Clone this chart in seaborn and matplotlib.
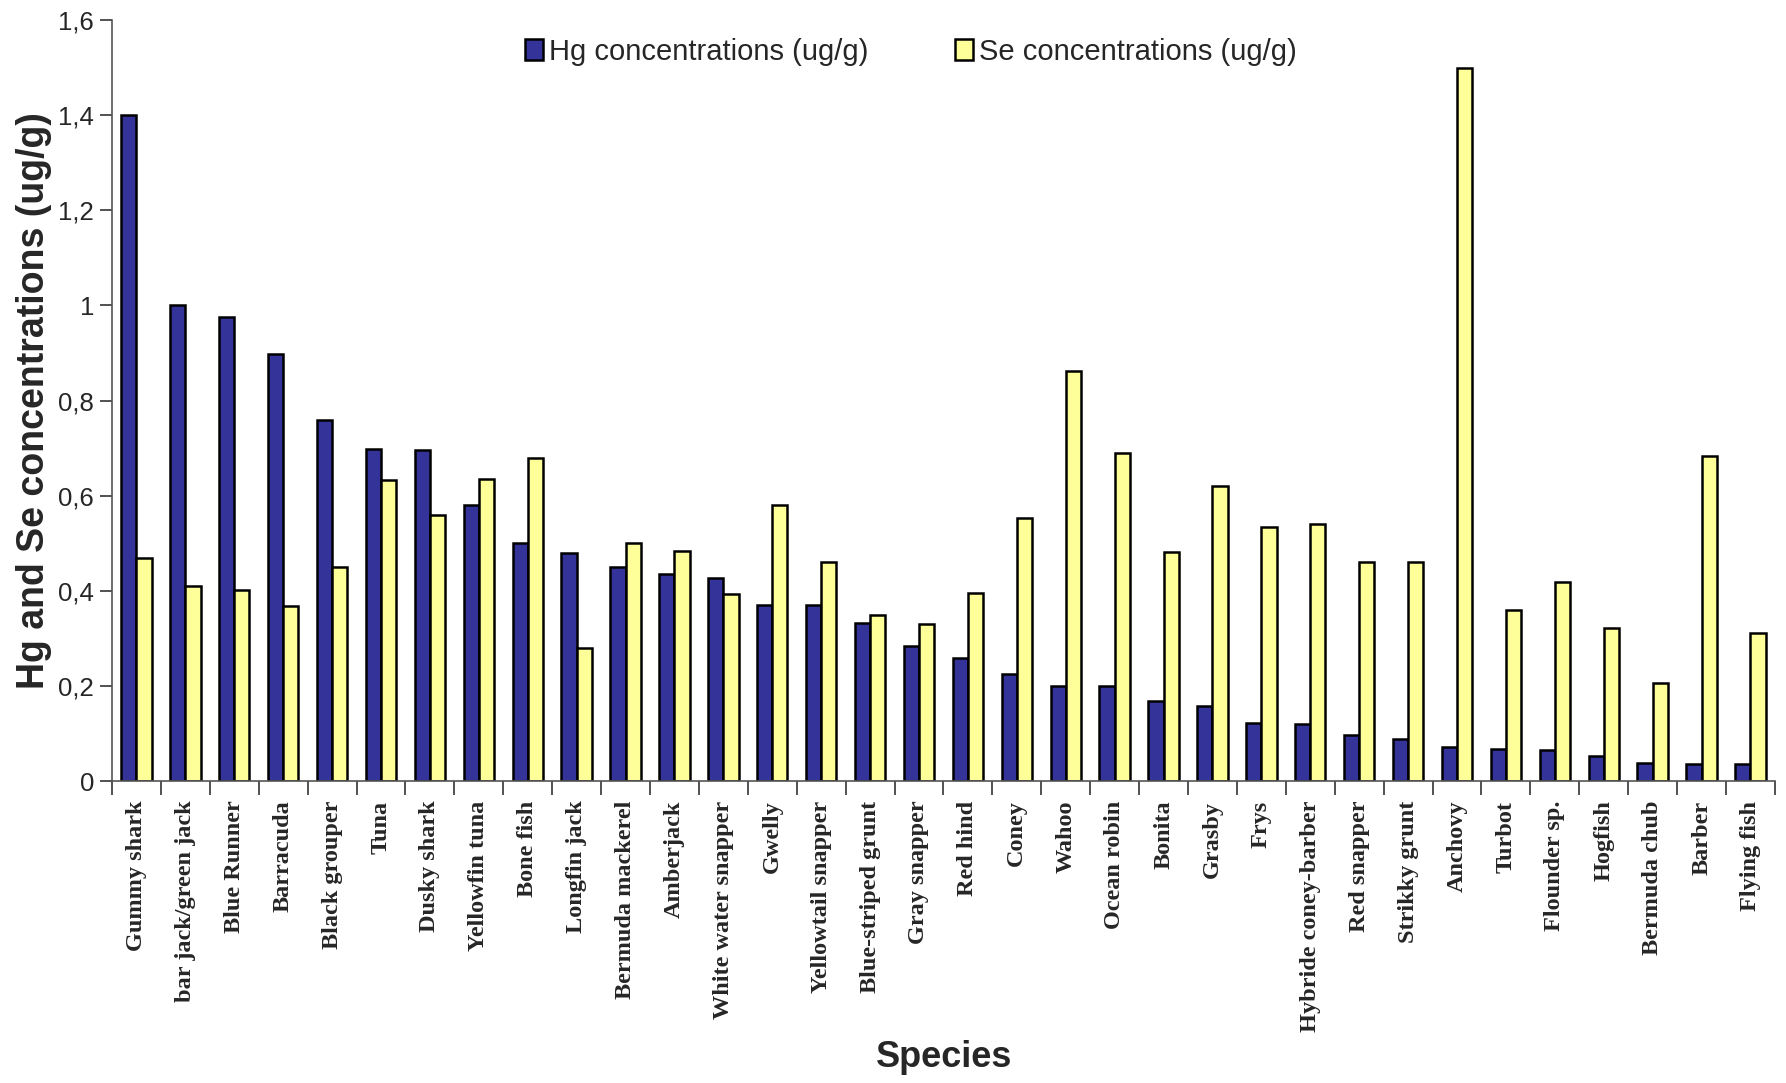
import matplotlib
matplotlib.use("Agg")
import matplotlib.pyplot as plt
from matplotlib.patches import Patch
from matplotlib.ticker import FixedLocator, FuncFormatter
import seaborn as sns
import pandas as pd
import numpy as np

species = [
    "Gummy shark", "bar jack/green jack", "Blue Runner", "Barracuda", "Black grouper",
    "Tuna", "Dusky shark", "Yellowfin tuna", "Bone fish", "Longfin jack",
    "Bermuda mackerel", "Amberjack", "White water snapper", "Gwelly", "Yellowtail snapper",
    "Blue-striped grunt", "Gray snapper", "Red hind", "Coney", "Wahoo",
    "Ocean robin", "Bonita", "Grasby", "Frys", "Hybride coney-barber",
    "Red snapper", "Strikky grunt", "Anchovy", "Turbot", "Flounder sp.",
    "Hogfish", "Bermuda chub", "Barber", "Flying fish",
]
hg = [1.40, 1.00, 0.975, 0.898, 0.759, 0.699, 0.695, 0.58, 0.50, 0.479,
      0.45, 0.436, 0.426, 0.371, 0.371, 0.333, 0.283, 0.259, 0.225, 0.199,
      0.199, 0.168, 0.158, 0.122, 0.12, 0.096, 0.089, 0.072, 0.067, 0.065,
      0.053, 0.038, 0.036, 0.035]
se = [0.469, 0.41, 0.402, 0.369, 0.45, 0.632, 0.56, 0.635, 0.68, 0.28,
      0.50, 0.484, 0.393, 0.58, 0.46, 0.35, 0.33, 0.395, 0.553, 0.862,
      0.69, 0.481, 0.62, 0.534, 0.541, 0.46, 0.46, 1.50, 0.359, 0.419,
      0.321, 0.206, 0.683, 0.311]
series_names = ["Hg concentrations (ug/g)", "Se concentrations (ug/g)"]
series_colors = ["#333399", "#FFFF99"]
y_ticks = [0, 0.2, 0.4, 0.6, 0.8, 1.0, 1.2, 1.4, 1.6]

sns.set_style("white")
plt.rcParams["font.family"] = ["Liberation Sans", "DejaVu Sans"]

df = pd.DataFrame({
    "Species": species * 2,
    "value": hg + se,
    "series": [series_names[0]] * len(species) + [series_names[1]] * len(species),
})

fig = plt.figure(figsize=(17.86, 10.83), dpi=100)
ax = fig.add_axes([0.0627, 0.2788, 0.9311, 0.7027])

sns.barplot(data=df, x="Species", y="value", hue="series", order=species,
            hue_order=series_names, palette=series_colors, width=0.62,
            edgecolor="black", linewidth=1.8, saturation=1, ax=ax, legend=False)

n = len(species)
ax.set_xlim(-0.5, n - 0.5)
ax.set_ylim(0, 1.6)

# spines
for s in ["top", "right"]:
    ax.spines[s].set_visible(False)
for s in ["left", "bottom"]:
    ax.spines[s].set_color("#555555")
    ax.spines[s].set_linewidth(1.2)

# y axis with comma decimals
ax.yaxis.set_major_locator(FixedLocator(y_ticks))
ax.yaxis.set_major_formatter(FuncFormatter(
    lambda v, p: "0" if v == 0 else ("1" if abs(v - 1) < 1e-9 else f"{v:.1f}".replace(".", ","))))
ax.tick_params(axis="y", which="major", direction="out", length=9, width=1.2,
               color="#333333", labelsize=18.5, pad=4, left=True)

# x axis: ticks between categories, labels at category centres
ax.set_xticks(np.arange(n))
ax.set_xticklabels(species, rotation=90, fontfamily="Liberation Serif",
                   fontweight="bold", fontsize=17.5, va="top", ha="center")
ax.tick_params(axis="x", which="major", length=0, pad=14)
ax.set_xticks(np.arange(-0.5, n, 1.0), minor=True)
ax.tick_params(axis="x", which="minor", direction="out", length=10, width=1.2,
               color="#333333", bottom=True)

ax.set_xlabel("Species", fontsize=26, fontweight="bold")
ax.xaxis.set_label_coords(0.5005, -0.340)
ax.set_ylabel("Hg and Se concentrations (ug/g)", fontsize=27, fontweight="bold",
              labelpad=4)

handles = [Patch(facecolor=c, edgecolor="black", linewidth=1.8) for c in series_colors]
fig.legend(handles, series_names, loc="center", bbox_to_anchor=(0.510, 0.952),
           ncol=2, frameon=False, fontsize=21, handlelength=0.6, handleheight=0.75,
           handletextpad=0.2, columnspacing=3.0)

fig.savefig("out.png", dpi=100, facecolor="white")
